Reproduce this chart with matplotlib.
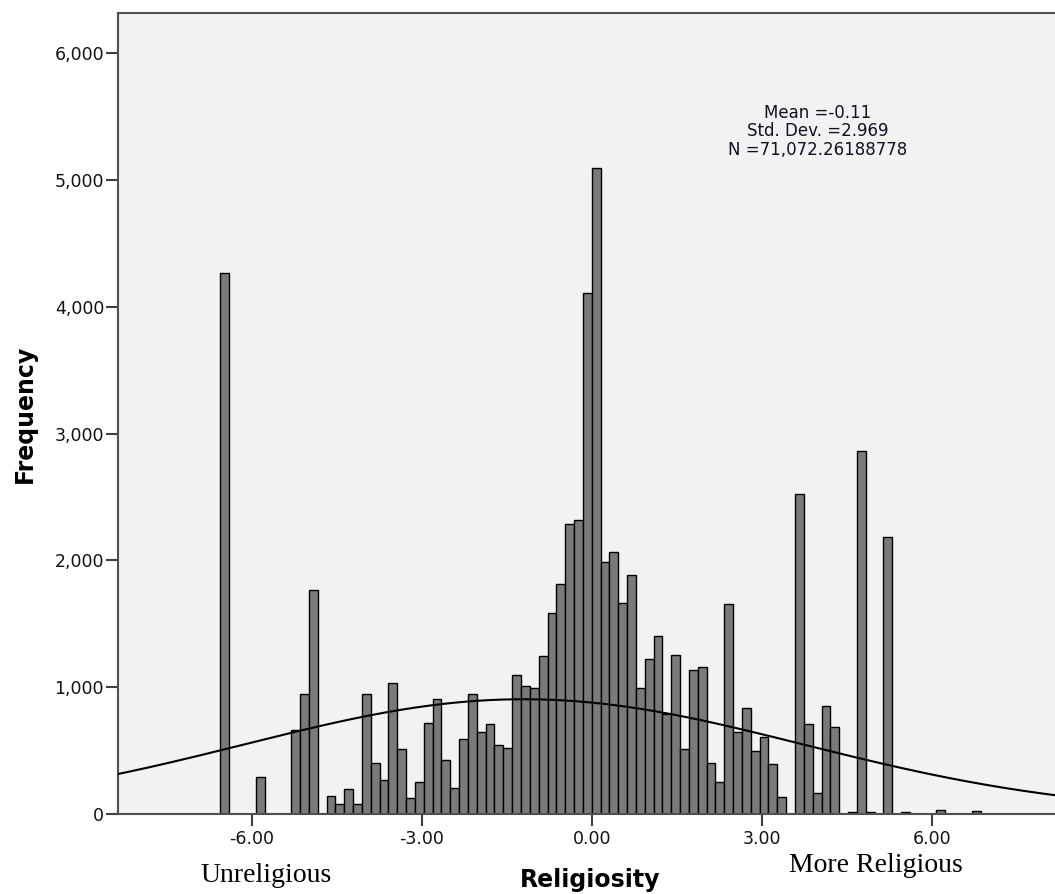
import numpy as np
import matplotlib
matplotlib.use('Agg')
import matplotlib.pyplot as plt
from matplotlib.ticker import FuncFormatter

# histogram of religiosity scores, bins of equal width starting at first_edge
first_edge = -6.552
bin_width = 0.156
counts = [4268, 0, 0, 0, 290, 0, 0, 0, 662, 944,
          1766, 0, 142, 79, 195, 79, 946, 400, 268, 1035,
          510, 124, 255, 720, 904, 426, 202, 589, 946, 649,
          710, 544, 518, 1096, 1009, 996, 1246, 1587, 1814, 2287,
          2318, 4111, 5091, 1990, 2063, 1663, 1888, 996, 1226, 1405,
          785, 1252, 513, 1138, 1160, 406, 253, 1656, 644, 832,
          499, 605, 392, 135, 0, 2523, 707, 165, 854, 683,
          0, 15, 2865, 15, 0, 2187, 0, 18, 0, 0,
          0, 30, 0, 0, 0, 20]

# normal curve as drawn in the picture
curve_mean = -1.2
curve_sd = 4.93
curve_peak = 905

stats_lines = ['Mean =-0.11', 'Std. Dev. =2.969', 'N =71,072.26188778']
xticks = [-6, -3, 0, 3, 6]
yticks = [0, 1000, 2000, 3000, 4000, 5000, 6000]

W, H = 1055, 894
fig = plt.figure(figsize=(W / 100, H / 100), dpi=100)
fig.patch.set_facecolor('white')

ax = fig.add_axes([118 / W, (H - 814) / H, (1062 - 118) / W, (814 - 13) / H])
ax.set_facecolor('#f2f2f2')

counts = np.array(counts)
edges = first_edge + bin_width * np.arange(len(counts))
keep = counts > 0
ax.bar(edges[keep], counts[keep], width=bin_width, align='edge',
       color='#7a7a7a', edgecolor='black', linewidth=1.0, zorder=2)

xs = np.linspace(-8.5, 8.5, 400)
ax.plot(xs, curve_peak * np.exp(-0.5 * ((xs - curve_mean) / curve_sd) ** 2),
        color='black', lw=1.5, zorder=3)

ax.set_xlim(-8.36, 8.30)
ax.set_ylim(0, 6316)
ax.set_xticks(xticks)
ax.set_yticks(yticks)
ax.xaxis.set_major_formatter(FuncFormatter(lambda v, p: f'{v:.2f}'))
ax.yaxis.set_major_formatter(FuncFormatter(lambda v, p: f'{int(v):,}'))
ax.tick_params(axis='both', direction='out', length=8.5, width=1.5,
               color='#404040', labelsize=12.5, labelcolor='#111111')
ax.tick_params(axis='y', pad=1.5)
ax.tick_params(axis='x', pad=3)

for side in ['left', 'bottom', 'top']:
    ax.spines[side].set_color('#505050')
    ax.spines[side].set_linewidth(1.5)
ax.spines['right'].set_visible(False)

fig.text(25 / W, 1 - 414 / H, 'Frequency', rotation=90, ha='center', va='center',
         fontsize=17, fontweight='bold')
fig.text(590 / W, 1 - 880 / H, 'Religiosity', ha='center', va='center',
         fontsize=17, fontweight='bold')
fig.text(266 / W, 1 - 876 / H, 'Unreligious', ha='center', va='center',
         fontsize=20, family='Liberation Serif')
fig.text(876 / W, 1 - 866 / H, 'More Religious', ha='center', va='center',
         fontsize=20, family='Liberation Serif')

for line, base in zip(stats_lines, [118, 136.5, 155]):
    fig.text(818 / W, 1 - base / H, line, ha='center', va='baseline',
             fontsize=12, color='#111122')

fig.savefig('out.png', dpi=100)
